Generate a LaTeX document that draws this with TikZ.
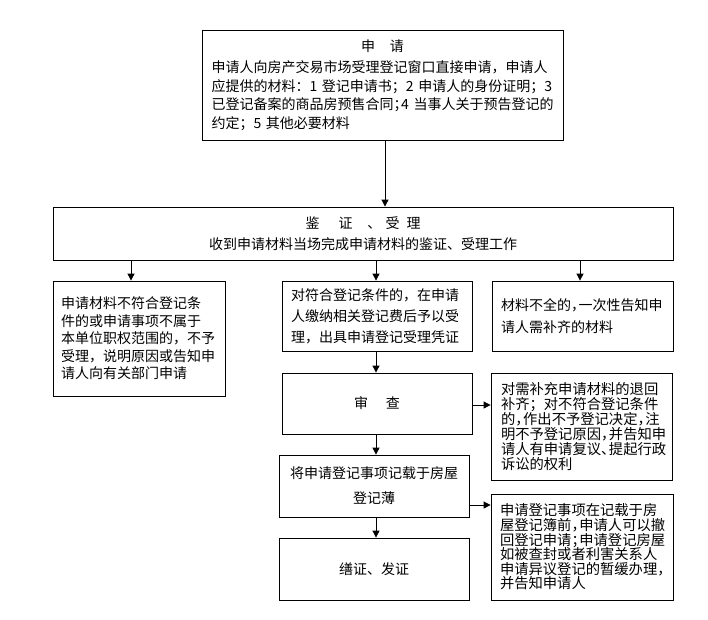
\documentclass[tikz,border=0pt]{standalone}
\usepackage{fontspec}
\setmainfont{Noto Sans CJK SC}
\usetikzlibrary{arrows.meta}
\newcommand\fsz[2]{\fontsize{#1}{#2}\selectfont}
\newcommand\hp[1]{\makebox[0.55em][l]{#1}}
\tikzset{
  box/.style={draw, line width=0.8pt, inner sep=0pt},
  arr/.style={-{Triangle[width=7pt,length=7pt]}, line width=0.8pt}
}
\begin{document}
\begin{tikzpicture}[x=1pt,y=-1pt]
\useasboundingbox (0,0) rectangle (708,619);
\node[box, minimum width=361pt, minimum height=110pt, text width=342pt, align=left, font={\fsz{14}{18.5}}] (apply) at (382.5,85)
 {\makebox[342pt]{申\hspace{15pt}请}\\[3pt]\mbox{申请人向房产交易市场受理登记窗口直接申请，申请人}\\\mbox{应提供的材料：1~登记申请书；2~申请人的身份证明；3}\\\mbox{已登记备案的商品房预售合同\hp{；}4~当事人关于预告登记的}\\\mbox{约定；5~其他必要材料}};
\node[box, minimum width=620pt, minimum height=53pt, align=center, font={\fsz{14}{21.5}}] (accept) at (363,233.5)
 {鉴\hspace{19pt}证\hspace{15pt}、\hspace{4pt}受\hspace{7pt}理\\收到申请材料当场完成申请材料的鉴证、受理工作};
\node[box, minimum width=172pt, minimum height=115pt, text width=156pt, align=left, font={\fsz{14}{17.5}}] (reject) at (139,338.5)
 {申请材料不符合登记条\\件的或申请事项不属于\\本单位职权范围的，不予\\受理，说明原因或告知申\\请人向有关部门申请};
\node[box, minimum width=190pt, minimum height=70pt, text width=172pt, align=left, font={\fsz{14}{21}}] (ok) at (377,316)
 {对符合登记条件的，在申请\\人缴纳相关登记费后予以受\\理，出具申请登记受理凭证};
\node[box, minimum width=181pt, minimum height=70pt, text width=163pt, align=left, font={\fsz{14}{21.5}}] (lack) at (582.5,316)
 {材料不全的\hp{，}一次性告知申\\请人需补齐的材料};
\node[box, minimum width=190pt, minimum height=61pt, font={\fsz{14}{17}}] (review) at (377,403.5)
 {审\hspace{18pt}查};
\node[box, minimum width=181pt, minimum height=107pt, text width=161pt, align=left, font={\fsz{14.3}{15}}] (ret) at (581.5,426.5)
 {对需补充申请材料的退回\\补齐；对不符合登记条件\\的\hp{，}作出不予登记决定\hp{，}注\\明不予登记原因\hp{，}并告知申\\请人有申请复议\hp{、}提起行政\\诉讼的权利};
\node[box, minimum width=190pt, minimum height=62pt, align=center, font={\fsz{14}{25}}] (record) at (374,486)
 {将申请登记事项记载于房屋\\登记薄};
\node[box, minimum width=190pt, minimum height=62pt, font={\fsz{14}{17}}] (issue) at (374,569)
 {缮证、发证};
\node[box, minimum width=182pt, minimum height=106pt, text width=164pt, align=left, font={\fsz{14.3}{14.6}}] (withdraw) at (582,547)
 {申请登记事项在记载于房\\屋登记簿前\hp{，}申请人可以撤\\回登记申请\hp{；}申请登记房屋\\如被查封或者利害关系人\\申请异议登记的暂缓办理\hp{，}\\并告知申请人};
\draw[arr] ([xshift=2.5pt]apply.south) -- ([xshift=2.5pt]apply.south |- accept.north);
\draw[arr] ([xshift=-8pt]reject.north |- accept.south) -- ([xshift=-8pt]reject.north);
\draw[arr] ([xshift=-1pt]ok.north |- accept.south) -- ([xshift=-1pt]ok.north);
\draw[arr] ([xshift=-2.5pt]lack.north |- accept.south) -- ([xshift=-2.5pt]lack.north);
\draw[arr] ([xshift=-1pt]ok.south) -- ([xshift=-1pt]review.north);
\draw[arr] ([xshift=-1pt]review.south) -- ([xshift=-1pt]review.south |- record.north);
\draw[arr] ([xshift=2pt]record.south) -- ([xshift=2pt]issue.north);
\draw[arr] ([yshift=-1.5pt]review.east) -- ([yshift=-1.5pt]review.east -| ret.west);
\draw[arr] ([yshift=-19pt]record.east) -- ([yshift=-19pt]record.east -| withdraw.west);
\end{tikzpicture}
\end{document}
